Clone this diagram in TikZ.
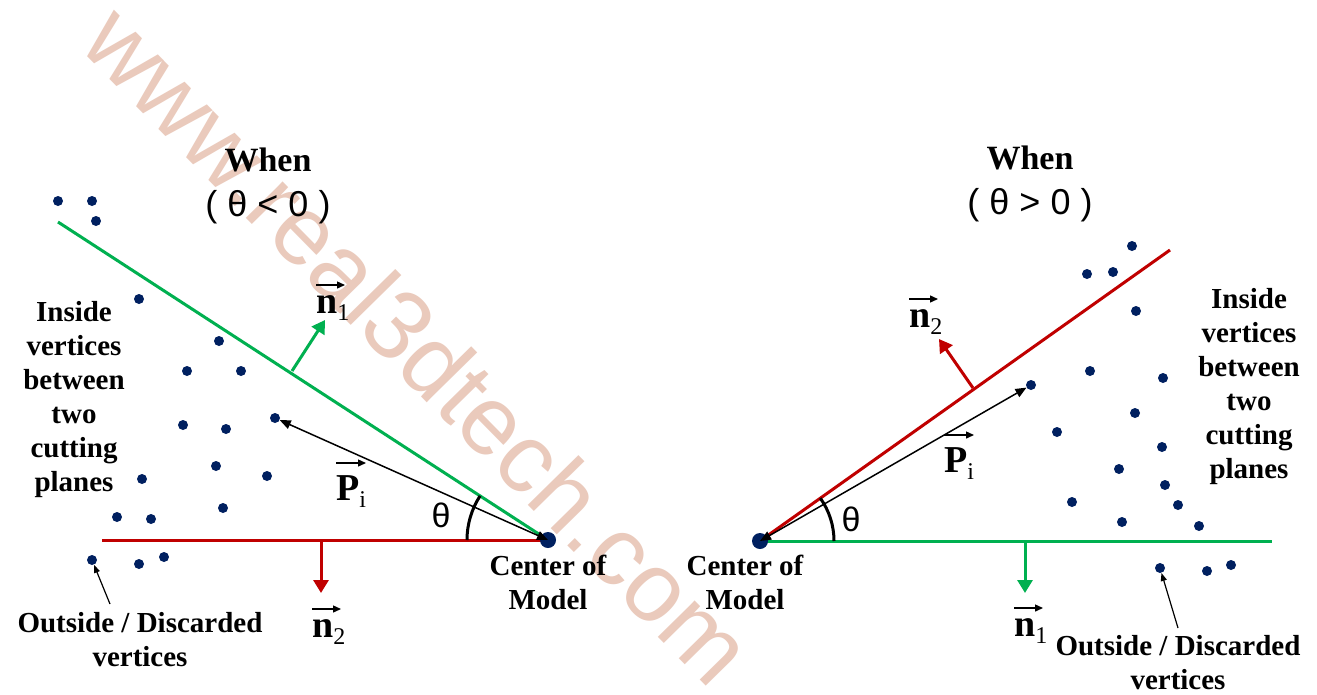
\documentclass[tikz,border=0pt]{standalone}
\usepackage{fontspec}
\setmainfont{Liberation Serif}
\newfontfamily\arialf{Liberation Sans}
\usetikzlibrary{arrows.meta}
\definecolor{gr}{RGB}{0,176,80}
\definecolor{rd}{RGB}{192,0,0}
\definecolor{dt}{RGB}{0,32,96}
\definecolor{wm}{RGB}{234,202,188}
\pgfdeclarelayer{wmark}
\pgfdeclarelayer{bg}
\pgfsetlayers{wmark,bg,main}
\newcommand\vlab[2]{\textbf{#1}\raisebox{-7pt}{\mdseries\fontsize{24}{24}\selectfont #2}}
\begin{document}
\begin{tikzpicture}[x=1pt,y=-1pt,
  dot/.style={circle,fill=dt,inner sep=0pt,minimum size=10pt},
  cdot/.style={circle,fill=dt,inner sep=0pt,minimum size=16pt},
  plane/.style={line width=3pt},
  nrm/.style={line width=3pt,-{Triangle[length=13pt,width=15pt]}},
  pvec/.style={line width=1.5pt,{Triangle[length=11pt,width=9pt]}-{Triangle[length=11pt,width=9pt]}},
  ptr/.style={line width=1.2pt,-{Triangle[length=8pt,width=6pt]}},
  varr/.style={line width=1.4pt,-{Triangle[length=8pt,width=7pt]}},
  angarc/.style={line width=3pt},
  lbl/.style={font=\bfseries\fontsize{29}{34}\selectfont,align=center,inner sep=0pt},
  ttl/.style={font=\bfseries\fontsize{34}{40}\selectfont,inner sep=0pt},
  cond/.style={font=\arialf\fontsize{36}{40}\selectfont,inner sep=0pt},
  thl/.style={font=\arialf\fontsize{34}{40}\selectfont,inner sep=0pt},
  vl/.style={font=\fontsize{38}{40}\selectfont,inner sep=0pt},
  wmk/.style={font=\arialf\fontsize{98}{98}\selectfont,text=wm,rotate=-45.5,inner sep=0pt}]
\useasboundingbox (0,0) rectangle (1317,694);

\begin{pgfonlayer}{wmark}
\fill[white] (0,0) rectangle (1317,694);
\node[wmk] (wmtext) at (419,344) {www.real3dtech.com};
\end{pgfonlayer}

% ---------------- left diagram ----------------
\node[cdot] (cL) at (548,540) {};
\coordinate (gL) at (58,222);
\coordinate (rL) at (102,540);
\coordinate (n1Lb) at (292,371);
\coordinate (n1Lt) at (325,320);
\coordinate (n2Lb) at (321,540);
\coordinate (n2Lt) at (321,593);
\coordinate (oLt) at (110,604);

\foreach \x/\y [count=\i] in {58/201,92/201,96/221,139/299,219/341,187/371,241/371,
   183/425,226/429,216/466,267/476,142/479,223/508,117/517,151/519,139/564,164/557}
  \node[dot] (dL\i) at (\x,\y) {};
\node[dot] (pL) at (275,418) {};
\node[dot] (oL) at (92,560) {};

\begin{pgfonlayer}{bg}
\draw[plane,rd] (rL) -- (cL.center);
\draw[plane,gr] (gL) -- (cL.center);
\draw[nrm,gr] (n1Lb) -- (n1Lt);
\draw[nrm,rd] (n2Lb) -- (n2Lt);
\draw[angarc] (467,540) arc[start angle=180,end angle=213,radius=81];
\end{pgfonlayer}
\draw[pvec] (pL) -- (cL.center);
\draw[ptr] (oLt) -- (oL);

\node[ttl] (whenL) at (268,160) {When};
\node[cond] (condL) at (268,207) {( θ < 0 )};
\node[lbl] (insL) at (74,400) {Inside\\vertices\\between\\two\\cutting\\planes};
\node[lbl] (cmL) at (548,582) {Center of\\Model};
\node[lbl] (outL) at (140,640) {Outside / Discarded\\vertices};
\node[thl] (thL) at (441,515) {θ};
\node[vl,anchor=north west] (n1L) at (316,295) {\vlab{n}{1}};
\node[vl,anchor=north west] (n2L) at (312,619) {\vlab{n}{2}};
\node[vl,anchor=north west] (PL) at (336,475) {\vlab{P}{i}};
\draw[varr] ([yshift=10pt]n1L.north west) -- ++(29,0);
\draw[varr] ([yshift=10pt]n2L.north west) -- ++(29,0);
\draw[varr] ([yshift=12pt]PL.north west) -- ++(30,0);

% ---------------- right diagram ----------------
\node[cdot] (cR) at (760,541) {};
\coordinate (gR) at (1272,541);
\coordinate (rR) at (1170,250);
\coordinate (n1Rb) at (1025,541);
\coordinate (n1Rt) at (1025,593);
\coordinate (n2Rb) at (973,388);
\coordinate (n2Rt) at (939,339);
\coordinate (oRt) at (1178,628);

\foreach \x/\y [count=\i] in {1132/246,1087/274,1113/272,1136/311,1090/371,1163/378,
   1135/413,1057/432,1162/447,1119/469,1165/485,1072/502,1178/505,1122/522,1199/526,
   1207/571,1231/565}
  \node[dot] (dR\i) at (\x,\y) {};
\node[dot] (pR) at (1031,385) {};
\node[dot] (oR) at (1160,568) {};

\begin{pgfonlayer}{bg}
\draw[plane,gr] (cR.center) -- (gR);
\draw[plane,rd] (cR.center) -- (rR);
\draw[nrm,gr] (n1Rb) -- (n1Rt);
\draw[nrm,rd] (n2Rb) -- (n2Rt);
\draw[angarc] (834,541) arc[start angle=0,end angle=-35.4,radius=74];
\end{pgfonlayer}
\draw[pvec] (cR.center) -- (pR);
\draw[ptr] (oRt) -- (oR);

\node[ttl] (whenR) at (1030,158) {When};
\node[cond] (condR) at (1030,205) {( θ > 0 )};
\node[lbl] (insR) at (1249,387) {Inside\\vertices\\between\\two\\cutting\\planes};
\node[lbl] (cmR) at (745,582) {Center of\\Model};
\node[lbl] (outR) at (1178,663) {Outside / Discarded\\vertices};
\node[thl] (thR) at (851,519) {θ};
\node[vl,anchor=north west] (n2R) at (909,309) {\vlab{n}{2}};
\node[vl,anchor=north west] (n1R) at (1014,618) {\vlab{n}{1}};
\node[vl,anchor=north west] (PR) at (944,447) {\vlab{P}{i}};
\draw[varr] ([yshift=10pt]n2R.north west) -- ++(29,0);
\draw[varr] ([yshift=10pt]n1R.north west) -- ++(29,0);
\draw[varr] ([yshift=12pt]PR.north west) -- ++(30,0);
\end{tikzpicture}
\end{document}
